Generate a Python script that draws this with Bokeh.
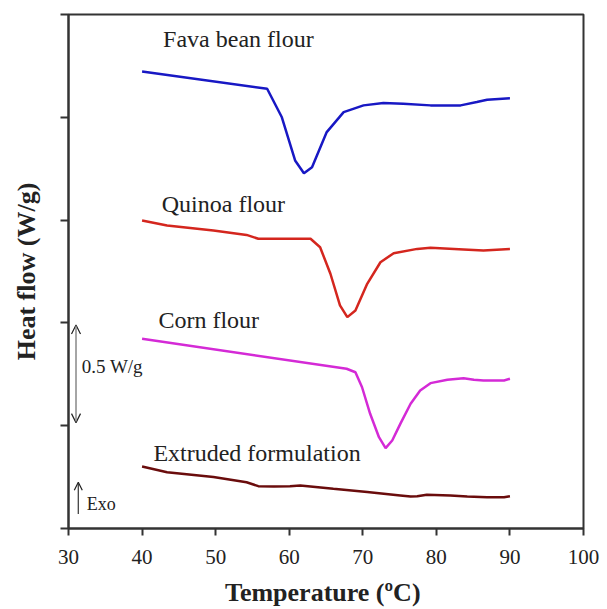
from bokeh.plotting import figure
from bokeh.models import Range1d, FixedTicker, Label, Arrow, OpenHead
from bokeh.embed import file_html
from bokeh.resources import INLINE

# ---- data ----
x_ticks = [30, 40, 50, 60, 70, 80, 90, 100]
y_ticks = [0.0, 0.5, 1.0, 1.5, 2.0, 2.5]

series_names = ["Fava bean flour", "Quinoa flour", "Corn flour", "Extruded formulation"]
series_colors = ["#1818c4", "#d4261e", "#d42ad6", "#6a0c0c"]

fava_t = [40, 57, 59.0, 60.8, 62.0, 63.1, 65.1, 67.4, 70.1, 72.8, 75.5, 79.2, 83.3, 85.5, 86.9, 90]
fava_hf = [2.223, 2.139, 2.000, 1.790, 1.728, 1.757, 1.928, 2.025, 2.058, 2.069, 2.066, 2.058, 2.058, 2.074, 2.085, 2.093]

quinoa_t = [40, 43.4, 49.7, 54.2, 55.8, 62.9, 64.2, 65.6, 66.9, 67.9, 69.0, 70.6, 72.4, 74.2, 77.4, 79.2, 83.7, 86.4, 90]
quinoa_hf = [1.498, 1.474, 1.449, 1.428, 1.409, 1.409, 1.368, 1.239, 1.085, 1.028, 1.060, 1.190, 1.295, 1.339, 1.360, 1.365, 1.357, 1.352, 1.360]

corn_t = [40, 67.8, 69.0, 69.9, 71.0, 72.2, 73.1, 74.0, 75.1, 76.5, 77.8, 79.2, 81.5, 83.7, 85.1, 86.4, 89.2, 90]
corn_hf = [0.923, 0.777, 0.760, 0.687, 0.558, 0.444, 0.391, 0.428, 0.509, 0.607, 0.671, 0.707, 0.723, 0.731, 0.723, 0.720, 0.720, 0.728]

ext_t = [40, 43.4, 49.7, 54.2, 55.8, 57.9, 60.1, 61.5, 66.0, 70.6, 75.1, 76.5, 77.4, 78.7, 81.9, 84.2, 86.9, 89.2, 90]
ext_hf = [0.302, 0.274, 0.250, 0.225, 0.206, 0.204, 0.206, 0.209, 0.193, 0.177, 0.161, 0.156, 0.157, 0.164, 0.161, 0.156, 0.152, 0.152, 0.157]

label_pos = [(42.86, 2.382), (42.68, 1.576), (42.22, 1.015), (41.54, 0.366)]

FONT = "Liberation Serif"

p = figure(width=607, height=609, output_backend="svg", toolbar_location=None,
           x_range=Range1d(30, 100), y_range=Range1d(0, 2.5),
           min_border_left=68, min_border_right=24, min_border_top=14, min_border_bottom=81)
p.background_fill_color = "white"
p.border_fill_color = "white"
p.outline_line_color = "#333333"
p.outline_line_width = 2
p.xgrid.visible = False
p.ygrid.visible = False

p.xaxis.ticker = FixedTicker(ticks=x_ticks)
p.yaxis.ticker = FixedTicker(ticks=y_ticks)
p.xaxis.minor_tick_line_color = None
p.yaxis.minor_tick_line_color = None
for ax in (p.xaxis, p.yaxis):
    ax.axis_line_color = "#333333"
    ax.axis_line_width = 2
    ax.major_tick_line_color = "#333333"
    ax.major_tick_line_width = 2
    ax.major_tick_in = 0
    ax.axis_label_text_font = FONT
    ax.axis_label_text_font_style = "bold"
    ax.axis_label_text_font_size = "26px"
    ax.axis_label_text_color = "#222222"
    ax.major_label_text_font = FONT
    ax.major_label_text_color = "#222222"
p.xaxis.major_tick_out = 7
p.yaxis.major_tick_out = 8
p.xaxis.major_label_text_font_size = "21px"
p.xaxis.major_label_standoff = 14
p.yaxis.major_label_text_font_size = "1px"
p.yaxis.major_label_text_color = None
p.xaxis.axis_label = "Temperature  (ºC)"
p.yaxis.axis_label = "Heat flow (W/g)"
p.xaxis.axis_label_standoff = 11
p.yaxis.axis_label_standoff = 20

series = [(fava_t, fava_hf), (quinoa_t, quinoa_hf), (corn_t, corn_hf), (ext_t, ext_hf)]
for (t, hf), name, col, (lx, ly) in zip(series, series_names, series_colors, label_pos):
    p.line(t, hf, line_color=col, line_width=2.5)
    p.add_layout(Label(x=lx, y=ly, text=name, text_font=FONT, text_font_size="24px",
                       text_color="#222222", text_baseline="alphabetic"))

# scale bar 0.5 W/g
p.add_layout(Arrow(x_start=31.02, y_start=0.515, x_end=31.02, y_end=0.99,
                   line_color="#888888", line_width=1.5,
                   start=OpenHead(size=9, line_color="#222222", line_width=1.2),
                   end=OpenHead(size=9, line_color="#222222", line_width=1.2)))
p.add_layout(Label(x=31.8, y=0.788, text="0.5 W/g", text_font=FONT, text_font_size="19px",
                   text_color="#222222", text_baseline="alphabetic"))
# Exo arrow
p.add_layout(Arrow(x_start=31.33, y_start=0.07, x_end=31.33, y_end=0.225,
                   line_color="#333333", line_width=1.2,
                   end=OpenHead(size=8, line_color="#222222", line_width=1.2)))
p.add_layout(Label(x=32.48, y=0.12, text="Exo", text_font=FONT, text_font_size="18px",
                   text_color="#222222", text_baseline="alphabetic"))

open("out.html", "w").write(file_html(p, INLINE))
